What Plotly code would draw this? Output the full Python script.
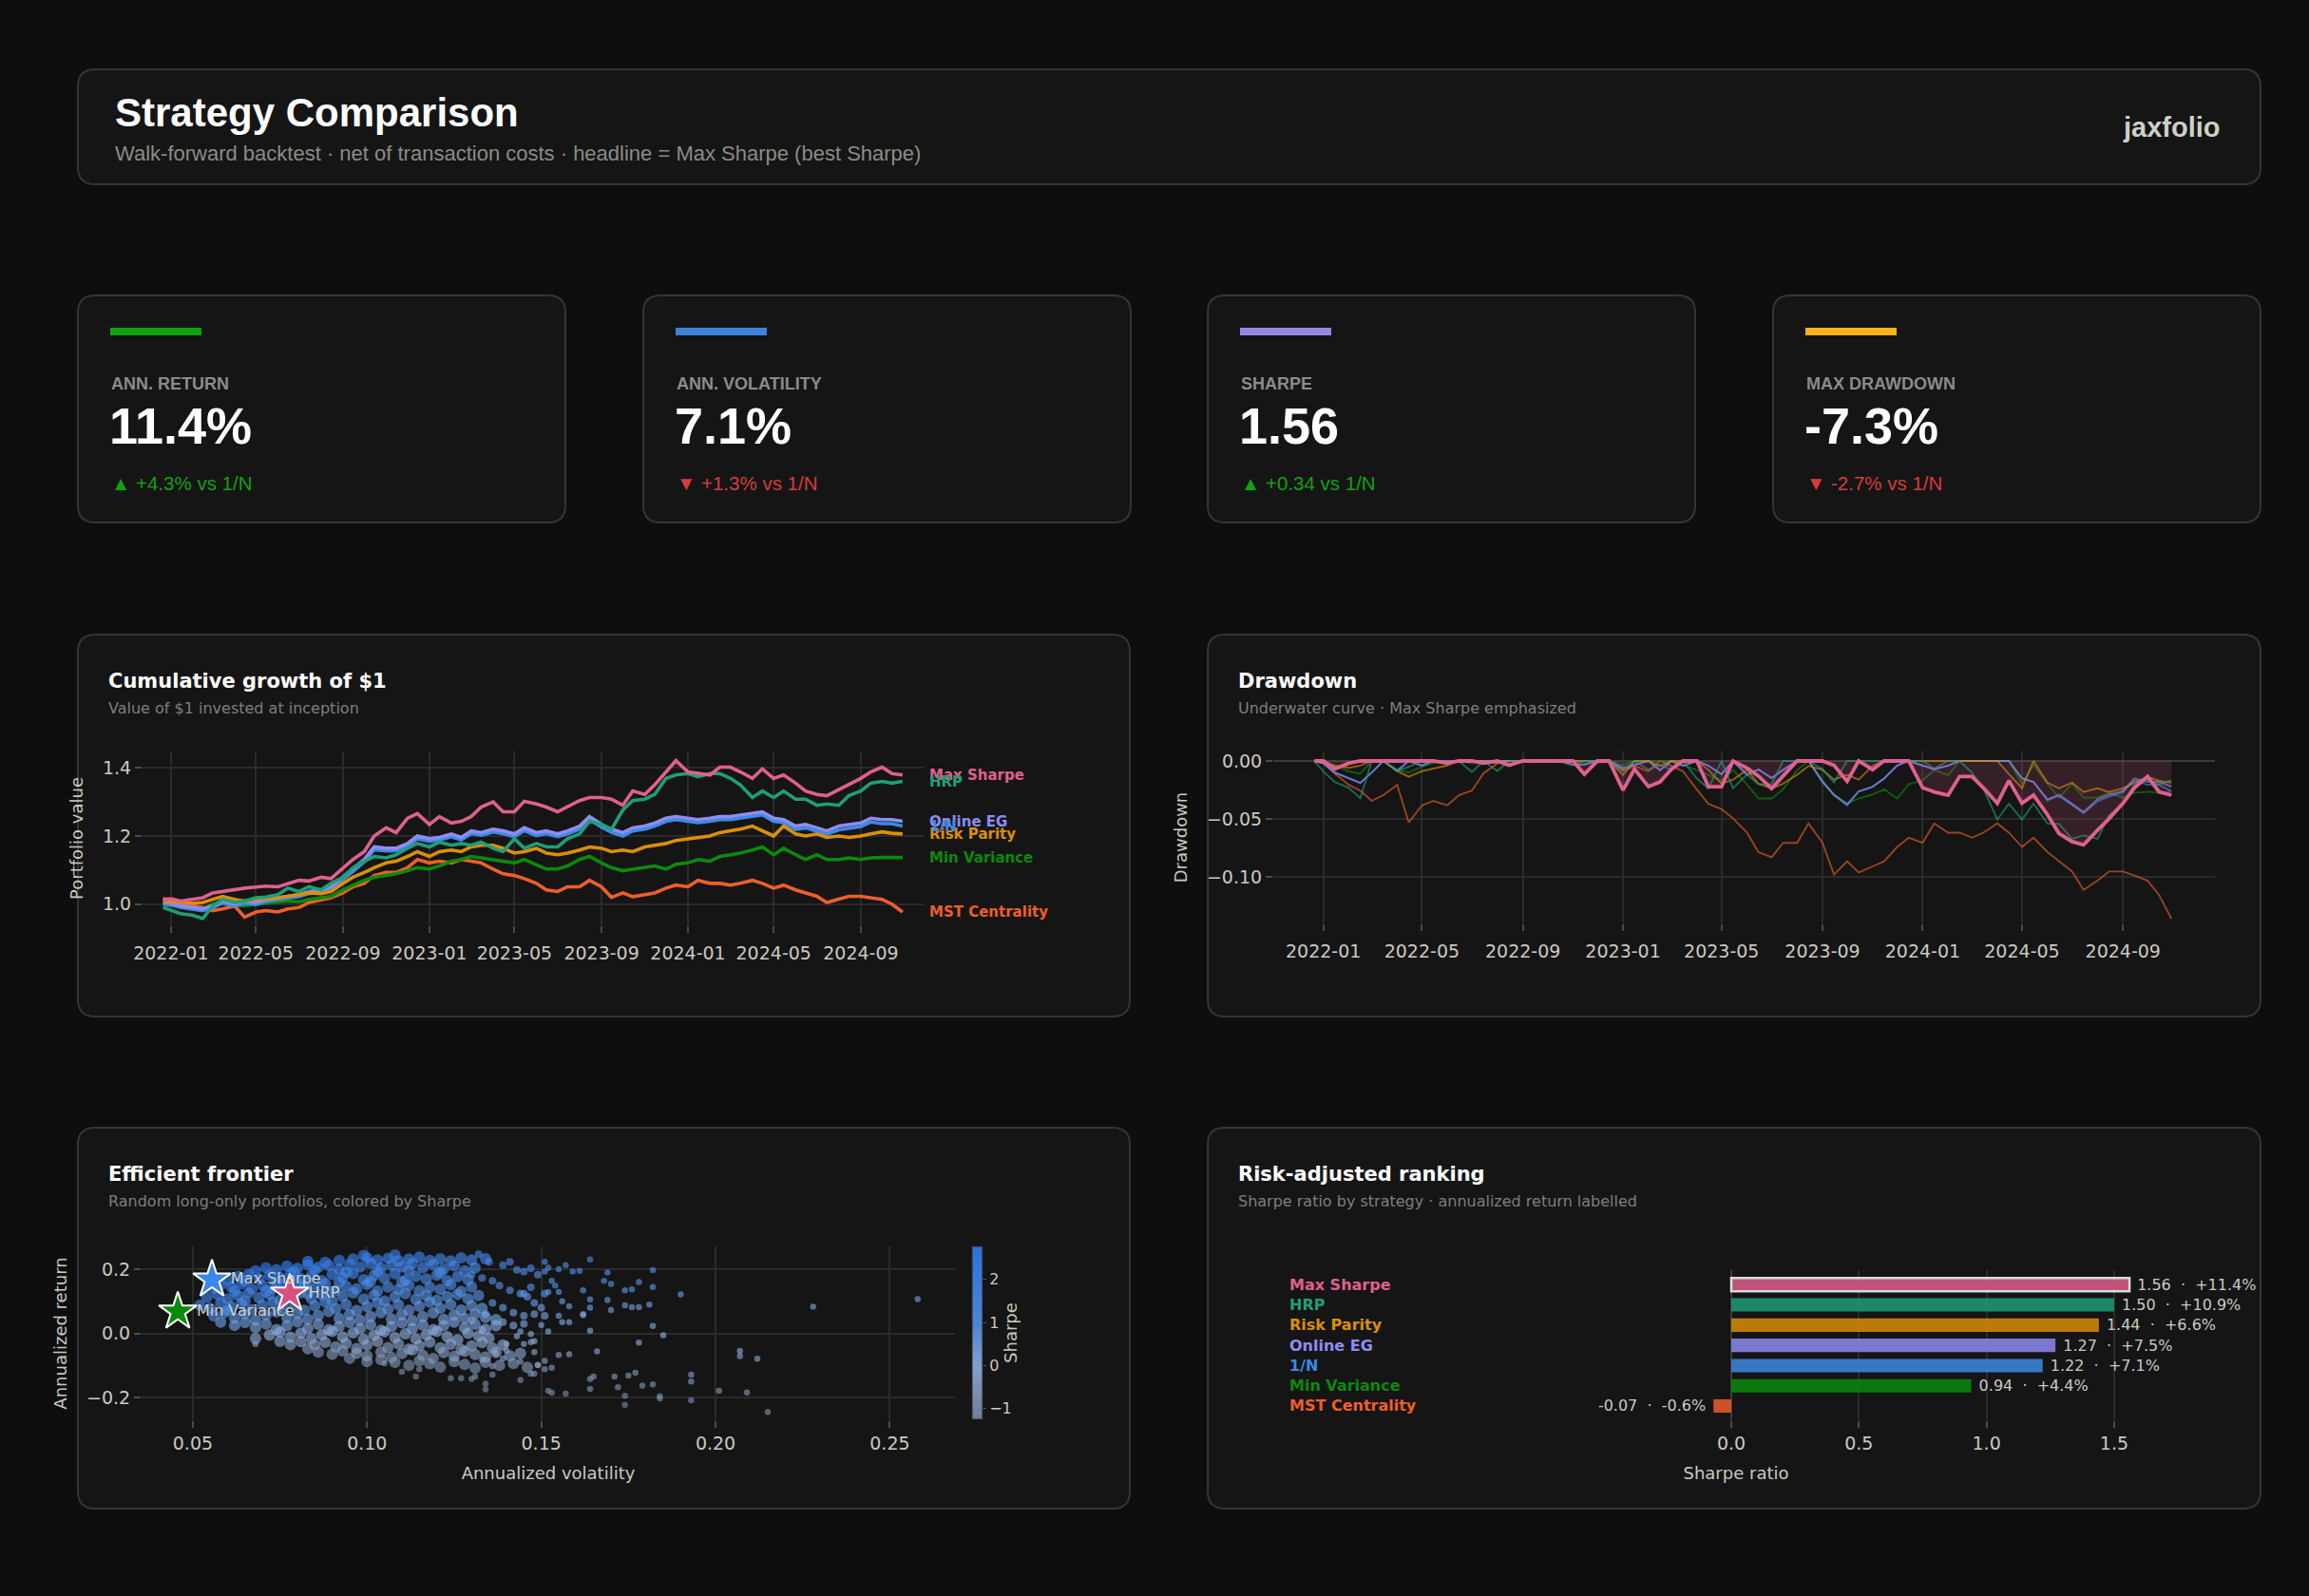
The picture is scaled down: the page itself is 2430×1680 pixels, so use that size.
import pandas as pd
import plotly.graph_objects as go

W, H = 2430, 1680
def fx(x): return x / W
def fy(y): return 1 - y / H

PAGE_BG = '#0e0e0e'
CARD_BG = '#151515'
CARD_LINE = '#353535'
TXT = '#cacac2'
GRID = '#2a2a2a'
TICKC = '#4a4a4a'
SANS = 'DejaVu Sans'
HEAD = 'Liberation Sans'

# ---------------- data ----------------
strategies = ['Max Sharpe', 'HRP', 'Risk Parity', 'Online EG', '1/N', 'Min Variance', 'MST Centrality']
line_colors = ['#e0608f', '#1f9e77', '#dc8f06', '#8f8cf2', '#3d8ae6', '#0b8a0b', '#ee5f2a']

months = pd.date_range('2022-01-01', '2024-10-01', freq='MS')
dates = ['2021-12-21'] + [d for m in months for d in (m.strftime('%Y-%m-01'), m.strftime('%Y-%m-15'))] + ['2024-10-30']

growth_max_sharpe = [1.012,
    1.016, 1.009, 1.014, 1.019, 1.033, 1.037, 1.044, 1.047, 1.050, 1.053, 1.051, 1.061,
    1.070, 1.068, 1.079, 1.075, 1.107, 1.131, 1.154, 1.200, 1.224, 1.210, 1.252, 1.266,
    1.234, 1.257, 1.238, 1.243, 1.257, 1.285, 1.300, 1.271, 1.271, 1.302, 1.294, 1.285,
    1.271, 1.285, 1.304, 1.313, 1.313, 1.308, 1.290, 1.332, 1.322, 1.350, 1.388, 1.421,
    1.388, 1.383, 1.379, 1.402, 1.402, 1.388, 1.369, 1.397, 1.369, 1.379, 1.355, 1.332,
    1.322, 1.318, 1.336, 1.350, 1.369, 1.388, 1.402, 1.383,
    1.379]
growth_hrp = [0.990,
    0.981, 0.972, 0.967, 0.958, 0.995, 1.014, 1.005, 1.009, 1.019, 1.021, 1.028, 1.047,
    1.037, 1.051, 1.042, 1.061, 1.079, 1.107, 1.126, 1.140, 1.136, 1.145, 1.164, 1.178,
    1.168, 1.182, 1.173, 1.178, 1.173, 1.182, 1.164, 1.154, 1.192, 1.164, 1.178, 1.168,
    1.168, 1.192, 1.206, 1.243, 1.234, 1.220, 1.276, 1.304, 1.308, 1.322, 1.369, 1.379,
    1.383, 1.374, 1.383, 1.383, 1.369, 1.350, 1.313, 1.332, 1.313, 1.332, 1.308, 1.308,
    1.290, 1.294, 1.290, 1.318, 1.332, 1.355, 1.360, 1.355,
    1.360]
growth_risk_parity = [1.009,
    1.007, 1.005, 1.003, 1.005, 1.014, 1.023, 1.014, 1.009, 1.014, 1.016, 1.019, 1.023,
    1.028, 1.033, 1.031, 1.037, 1.061, 1.079, 1.093, 1.107, 1.121, 1.126, 1.140, 1.154,
    1.140, 1.154, 1.159, 1.154, 1.168, 1.173, 1.173, 1.164, 1.150, 1.154, 1.164, 1.150,
    1.145, 1.150, 1.159, 1.168, 1.164, 1.154, 1.159, 1.154, 1.168, 1.173, 1.178, 1.187,
    1.192, 1.196, 1.200, 1.210, 1.215, 1.220, 1.229, 1.215, 1.200, 1.229, 1.206, 1.200,
    1.206, 1.196, 1.200, 1.196, 1.200, 1.206, 1.212, 1.208,
    1.206]
growth_online_eg = [1.005,
    1.003, 0.995, 0.990, 0.986, 0.995, 1.009, 1.000, 1.009, 1.005, 1.014, 1.019, 1.023,
    1.028, 1.037, 1.042, 1.051, 1.079, 1.103, 1.131, 1.168, 1.164, 1.164, 1.178, 1.200,
    1.192, 1.196, 1.206, 1.196, 1.215, 1.210, 1.220, 1.215, 1.206, 1.224, 1.210, 1.215,
    1.206, 1.215, 1.229, 1.257, 1.234, 1.220, 1.210, 1.224, 1.229, 1.238, 1.252, 1.257,
    1.252, 1.248, 1.252, 1.257, 1.257, 1.262, 1.266, 1.271, 1.252, 1.248, 1.229, 1.234,
    1.224, 1.215, 1.229, 1.234, 1.238, 1.252, 1.248, 1.248,
    1.243]
growth_equal_weight = [1.000,
    0.998, 0.990, 0.985, 0.981, 0.990, 1.003, 0.995, 1.003, 0.999, 1.008, 1.013, 1.017,
    1.022, 1.031, 1.036, 1.045, 1.072, 1.096, 1.124, 1.160, 1.156, 1.157, 1.170, 1.192,
    1.185, 1.188, 1.198, 1.189, 1.207, 1.202, 1.212, 1.207, 1.198, 1.216, 1.201, 1.207,
    1.198, 1.206, 1.220, 1.248, 1.226, 1.211, 1.200, 1.215, 1.220, 1.229, 1.243, 1.248,
    1.243, 1.239, 1.243, 1.248, 1.248, 1.252, 1.257, 1.262, 1.243, 1.239, 1.219, 1.224,
    1.214, 1.205, 1.218, 1.223, 1.228, 1.241, 1.236, 1.236,
    1.229]
growth_min_variance = [0.995,
    0.997, 0.993, 0.988, 0.986, 1.000, 1.005, 0.997, 0.995, 1.000, 1.003, 1.005, 1.009,
    1.007, 1.014, 1.019, 1.023, 1.042, 1.056, 1.070, 1.079, 1.084, 1.089, 1.098, 1.107,
    1.103, 1.112, 1.126, 1.131, 1.140, 1.136, 1.131, 1.126, 1.121, 1.131, 1.117, 1.103,
    1.103, 1.112, 1.131, 1.140, 1.121, 1.107, 1.098, 1.103, 1.107, 1.112, 1.103, 1.117,
    1.121, 1.131, 1.126, 1.140, 1.145, 1.150, 1.159, 1.168, 1.145, 1.164, 1.145, 1.131,
    1.145, 1.131, 1.131, 1.136, 1.131, 1.136, 1.137, 1.136,
    1.137]
growth_mst = [1.016,
    1.014, 1.005, 0.995, 0.990, 0.981, 0.986, 0.995, 0.962, 0.977, 0.981, 0.977, 0.986,
    0.990, 1.005, 1.014, 1.019, 1.033, 1.051, 1.061, 1.084, 1.093, 1.093, 1.107, 1.131,
    1.121, 1.126, 1.121, 1.131, 1.126, 1.121, 1.103, 1.089, 1.084, 1.075, 1.061, 1.042,
    1.037, 1.051, 1.051, 1.070, 1.051, 1.020, 1.033, 1.022, 1.028, 1.033, 1.047, 1.056,
    1.051, 1.070, 1.061, 1.061, 1.056, 1.061, 1.070, 1.061, 1.047, 1.056, 1.042, 1.033,
    1.023, 1.005, 1.014, 1.023, 1.023, 1.019, 1.014, 1.000,
    0.977]
growth = [growth_max_sharpe, growth_hrp, growth_risk_parity, growth_online_eg,
          growth_equal_weight, growth_min_variance, growth_mst]

# efficient frontier: (annualized volatility, annualized return)
frontier_core = [
    (0.083,0.225),(0.088,0.222),(0.092,0.228),(0.096,0.232),(0.100,0.236),(0.103,0.229),(0.106,0.234),(0.109,0.226),
    (0.112,0.232),(0.115,0.238),(0.118,0.228),(0.121,0.233),(0.124,0.226),(0.127,0.236),(0.130,0.229),(0.099,0.243),
    (0.108,0.245),(0.134,0.233),
    (0.068,0.195),(0.071,0.205),(0.074,0.199),(0.077,0.210),(0.080,0.203),(0.083,0.214),(0.086,0.206),(0.089,0.212),
    (0.092,0.200),(0.095,0.216),(0.098,0.207),(0.101,0.219),(0.104,0.203),(0.107,0.213),(0.110,0.208),(0.113,0.218),
    (0.116,0.205),(0.119,0.214),(0.122,0.200),(0.125,0.211),(0.128,0.195),(0.131,0.205),(0.079,0.192),(0.085,0.197),
    (0.094,0.191),(0.103,0.194),(0.112,0.196),(0.121,0.190),
    (0.060,0.168),(0.063,0.178),(0.066,0.184),(0.069,0.170),(0.072,0.181),(0.075,0.175),(0.078,0.186),(0.081,0.171),
    (0.084,0.180),(0.087,0.165),(0.090,0.184),(0.093,0.174),(0.096,0.187),(0.099,0.168),(0.102,0.180),(0.105,0.172),
    (0.108,0.186),(0.111,0.166),(0.114,0.178),(0.117,0.170),(0.120,0.182),(0.123,0.165),(0.126,0.177),(0.129,0.168),
    (0.065,0.163),(0.074,0.162),(0.083,0.161),(0.092,0.160),(0.101,0.162),(0.110,0.161),
    (0.056,0.140),(0.058,0.152),(0.061,0.145),(0.064,0.155),(0.067,0.138),(0.070,0.150),(0.073,0.142),(0.076,0.157),
    (0.079,0.136),(0.082,0.148),(0.085,0.140),(0.088,0.155),(0.091,0.134),(0.094,0.147),(0.097,0.139),(0.100,0.153),
    (0.103,0.132),(0.106,0.145),(0.109,0.137),(0.112,0.150),(0.115,0.133),(0.118,0.144),(0.121,0.137),(0.124,0.152),
    (0.127,0.131),(0.130,0.145),(0.062,0.132),(0.071,0.131),(0.080,0.158),(0.089,0.131),
    (0.054,0.112),(0.057,0.122),(0.060,0.108),(0.063,0.118),(0.066,0.126),(0.069,0.111),(0.072,0.121),(0.075,0.104),
    (0.078,0.117),(0.081,0.127),(0.084,0.109),(0.087,0.120),(0.090,0.102),(0.093,0.116),(0.096,0.126),(0.099,0.107),
    (0.102,0.119),(0.105,0.101),(0.108,0.114),(0.111,0.124),(0.114,0.106),(0.117,0.118),(0.120,0.103),(0.123,0.115),
    (0.126,0.122),(0.129,0.108),(0.132,0.118),(0.065,0.101),(0.083,0.124),
    (0.052,0.088),(0.055,0.078),(0.058,0.095),(0.061,0.083),(0.064,0.092),(0.067,0.074),(0.070,0.088),(0.073,0.097),
    (0.076,0.079),(0.079,0.091),(0.082,0.072),(0.085,0.086),(0.088,0.098),(0.091,0.077),(0.094,0.090),(0.097,0.071),
    (0.100,0.084),(0.103,0.095),(0.106,0.076),(0.109,0.089),(0.112,0.072),(0.115,0.085),(0.118,0.097),(0.121,0.078),
    (0.124,0.090),(0.127,0.073),(0.130,0.086),(0.133,0.078),(0.060,0.071),
    (0.056,0.055),(0.059,0.065),(0.062,0.048),(0.065,0.060),(0.068,0.042),(0.071,0.057),(0.074,0.067),(0.077,0.050),
    (0.080,0.062),(0.083,0.044),(0.086,0.056),(0.089,0.068),(0.092,0.047),(0.095,0.059),(0.098,0.041),(0.101,0.053),
    (0.104,0.065),(0.107,0.045),(0.110,0.058),(0.113,0.040),(0.116,0.052),(0.119,0.064),(0.122,0.044),(0.125,0.057),
    (0.128,0.047),(0.131,0.061),(0.134,0.050),(0.137,0.043),
    (0.062,0.025),(0.065,0.034),(0.068,0.018),(0.071,0.029),(0.074,0.012),(0.077,0.024),(0.080,0.036),(0.083,0.016),
    (0.086,0.028),(0.089,0.011),(0.092,0.022),(0.095,0.034),(0.098,0.014),(0.101,0.027),(0.104,0.010),(0.107,0.021),
    (0.110,0.033),(0.113,0.015),(0.116,0.026),(0.119,0.012),(0.122,0.024),(0.125,0.035),(0.128,0.017),(0.131,0.028),
    (0.134,0.013),(0.137,0.024),(0.058,0.035),
    (0.072,-0.005),(0.075,0.004),(0.078,-0.012),(0.081,0.001),(0.084,-0.016),(0.087,-0.004),(0.090,0.006),(0.093,-0.011),
    (0.096,0.002),(0.099,-0.018),(0.102,-0.006),(0.105,0.005),(0.108,-0.013),(0.111,-0.001),(0.114,-0.017),(0.117,-0.004),
    (0.120,0.006),(0.123,-0.010),(0.126,-0.020),(0.129,0.000),(0.132,-0.008),(0.068,-0.016),(0.135,-0.015),
    (0.081,-0.026),(0.085,-0.035),(0.088,-0.028),(0.091,-0.042),(0.094,-0.031),(0.097,-0.047),(0.100,-0.036),(0.103,-0.025),
    (0.106,-0.044),(0.109,-0.033),(0.112,-0.049),(0.115,-0.038),(0.118,-0.027),(0.121,-0.045),(0.124,-0.034),(0.127,-0.050),
    (0.130,-0.039),(0.133,-0.029),(0.136,-0.046),(0.139,-0.036),
    (0.075,-0.025),(0.078,-0.035),(0.083,-0.048),(0.086,-0.058),(0.090,-0.065),(0.095,-0.078),(0.100,-0.088),
    (0.093,-0.055),(0.097,-0.062),(0.100,-0.070),(0.104,-0.058),(0.107,-0.075),(0.110,-0.063),(0.113,-0.052),(0.116,-0.069),
    (0.119,-0.078),(0.122,-0.060),(0.125,-0.072),(0.128,-0.056),(0.131,-0.066),(0.134,-0.074),(0.137,-0.060),(0.141,-0.070),
    (0.144,-0.062),
    (0.104,-0.082),(0.108,-0.090),(0.112,-0.100),(0.115,-0.086),(0.118,-0.095),(0.121,-0.105),(0.125,-0.088),(0.128,-0.097),
    (0.131,-0.108),(0.134,-0.090),(0.138,-0.100),(0.142,-0.094),(0.146,-0.106),
]
frontier_mid = [
    (0.132,0.247),(0.135,0.223),(0.139,0.213),(0.141,0.223),(0.143,0.198),(0.145,0.193),(0.147,0.203),(0.149,0.183),
    (0.130,0.183),(0.133,0.173),(0.136,0.164),(0.138,0.149),(0.141,0.134),(0.144,0.124),(0.146,0.114),(0.148,0.095),
    (0.136,0.095),(0.139,0.080),(0.142,0.065),(0.145,0.055),(0.134,0.060),(0.139,0.035),(0.142,0.025),(0.130,0.040),
    (0.133,0.011),(0.145,0.030),(0.147,0.144),(0.145,0.124),(0.151,0.124),(0.150,0.080),(0.148,0.060),(0.151,0.055),
]
frontier_sparse = [
    (0.258,0.107),(0.228,0.083),(0.212,-0.079),(0.207,-0.055),(0.207,-0.071),(0.215,-0.245),(0.209,-0.184),(0.201,-0.179),
    (0.193,-0.129),(0.193,-0.150),(0.193,-0.209),(0.190,0.122),(0.184,-0.196),(0.184,-0.203),(0.182,0.197),(0.182,0.145),
    (0.181,0.090),(0.182,0.023),(0.185,-0.006),(0.178,-0.029),(0.166,-0.056),(0.178,0.160),(0.174,0.088),(0.176,0.082),
    (0.178,0.082),(0.169,0.190),(0.164,0.231),(0.169,0.104),(0.170,0.073),(0.164,0.080),(0.162,0.057),(0.164,0.008),
    (0.176,0.137),(0.174,0.134),(0.158,-0.065),(0.155,-0.067),(0.171,-0.135),(0.175,-0.132),(0.177,-0.123),(0.164,-0.142),
    (0.165,-0.135),(0.172,-0.168),(0.174,-0.195),(0.174,-0.223),(0.179,-0.163),(0.182,-0.159),(0.164,-0.173),(0.152,-0.179),
    (0.153,-0.185),(0.157,-0.188),(0.144,-0.146),(0.147,-0.126),(0.148,-0.126),(0.151,-0.086),(0.153,-0.107),(0.149,-0.099),
    (0.151,-0.112),(0.134,-0.157),(0.134,-0.175),(0.136,-0.129),(0.131,-0.135),(0.130,-0.142),(0.127,-0.140),(0.124,-0.140),
    (0.114,-0.135),(0.115,-0.112),(0.110,-0.120),(0.105,-0.093),(0.152,0.006),(0.150,0.026),(0.147,-0.002),(0.148,-0.024),
    (0.147,-0.027),(0.156,0.035),(0.155,0.055),(0.158,0.035),(0.159,0.193),(0.161,0.195),(0.157,0.213),(0.155,0.200),
    (0.151,0.223),(0.152,0.205),(0.151,0.193),(0.153,0.164),(0.154,0.149),(0.155,0.129),(0.152,0.129),(0.162,0.134),
    (0.164,0.106),(0.168,0.164),(0.170,0.154),(0.156,0.100),(0.158,0.085),(0.162,0.060),(0.144,0.006),(0.143,-0.009),
    (0.145,-0.033),(0.140,-0.053),(0.140,-0.033),(0.148,-0.058),(0.149,-0.098),(0.144,-0.088),(0.136,-0.102),(0.133,-0.083),
    (0.137,-0.063),(0.139,-0.078),(0.068,-0.033),
]
star_names = ['Max Sharpe', 'HRP', 'Min Variance']
star_vol = [0.0555, 0.0778, 0.0457]
star_ret = [0.168, 0.124, 0.068]
star_colors = ['#3b86e8', '#d6527f', '#0b8a0b']

rank_names = ['Max Sharpe', 'HRP', 'Risk Parity', 'Online EG', '1/N', 'Min Variance', 'MST Centrality']
rank_sharpe = [1.56, 1.50, 1.44, 1.27, 1.22, 0.94, -0.07]
rank_return = [11.4, 10.9, 6.6, 7.5, 7.1, 4.4, -0.6]

kpi_labels = ['ANN. RETURN', 'ANN. VOLATILITY', 'SHARPE', 'MAX DRAWDOWN']
kpi_values = ['11.4%', '7.1%', '1.56', '-7.3%']
kpi_deltas = ['▲ +4.3% vs 1/N', '▼ +1.3% vs 1/N', '▲ +0.34 vs 1/N', '▼ -2.7% vs 1/N']
kpi_delta_colors = ['#13a013', '#d63c3c', '#13a013', '#d63c3c']
kpi_accents = ['#10a010', '#3c82d8', '#9288e4', '#f7b21c']

color_of = dict(zip(strategies, line_colors))

# ---------------- figure ----------------
fig = go.Figure()

# cumulative growth (drawn bottom -> top)
for name, vals in reversed(list(zip(strategies, growth))):
    fig.add_trace(go.Scatter(x=dates, y=vals, mode='lines', xaxis='x', yaxis='y',
                             line=dict(color=color_of[name], width=3.6), showlegend=False, hoverinfo='skip'))

# drawdown
for name, vals in reversed(list(zip(strategies, growth))):
    if name == 'Max Sharpe':
        continue
    s = pd.Series(vals)
    dd = (s / s.cummax() - 1).tolist()
    fig.add_trace(go.Scatter(x=dates, y=dd, mode='lines', xaxis='x2', yaxis='y2', opacity=0.62,
                             line=dict(color=color_of[name], width=1.9), showlegend=False, hoverinfo='skip'))
s = pd.Series(growth_max_sharpe)
dd_ms = (s / s.cummax() - 1).tolist()
fig.add_trace(go.Scatter(x=dates, y=dd_ms, mode='lines', xaxis='x2', yaxis='y2', fill='tozeroy',
                         fillcolor='rgba(224,96,143,0.16)', line=dict(color='#e0608f', width=3.8),
                         showlegend=False, hoverinfo='skip'))

# efficient frontier
pts = frontier_core + frontier_mid + frontier_sparse
f_vol = [p[0] for p in pts]
f_ret = [p[1] for p in pts]
f_sharpe = [r / v for v, r in zip(f_vol, f_ret)]
f_size = [12] * len(frontier_core) + [8] * len(frontier_mid) + [6.5] * len(frontier_sparse)
fig.add_trace(go.Scatter(
    x=f_vol, y=f_ret, mode='markers', xaxis='x3', yaxis='y3', showlegend=False, hoverinfo='skip',
    marker=dict(size=f_size, color=f_sharpe, cmin=-1.25, cmax=2.77,
                colorscale=[[0, 'rgba(122,140,168,0.88)'], [0.3, 'rgba(145,175,222,0.9)'],
                            [0.55, 'rgba(84,146,232,0.9)'], [1, 'rgba(50,122,236,0.92)']],
                line=dict(width=0),
                colorbar=dict(x=fx(1022.6), xanchor='left', y=fy(1403), yanchor='middle',
                              len=182, lenmode='pixels', thickness=11, xpad=0, ypad=0,
                              outlinewidth=1, outlinecolor='#2a2a2a',
                              tickvals=[-1, 0, 1, 2], ticks='outside', ticklen=4, tickcolor='#555555',
                              tickfont=dict(size=16, color=TXT, family=SANS),
                              title=dict(text='Sharpe', side='right', font=dict(size=18, color=TXT, family=SANS))))))
fig.add_trace(go.Scatter(
    x=star_vol, y=star_ret, mode='markers+text', xaxis='x3', yaxis='y3', showlegend=False, hoverinfo='skip',
    text=star_names, textposition='middle right', textfont=dict(size=16, color='#d2d2ca', family=SANS),
    marker=dict(symbol='star', size=30, color=star_colors, line=dict(color='white', width=2))))

# ranking
bar_text = []
for s_, r_ in zip(rank_sharpe, rank_return):
    t = f"{s_:.2f}\u00a0\u00a0·\u00a0\u00a0{r_:+.1f}%"
    bar_text.append('\u00a0' + t if s_ >= 0 else t + '\u00a0')
fig.add_trace(go.Bar(
    x=rank_sharpe, y=rank_names, orientation='h', xaxis='x4', yaxis='y4', width=0.66,
    marker=dict(color=[color_of[n] for n in rank_names], opacity=0.84,
                line=dict(color=['white'] + ['rgba(0,0,0,0)'] * 6, width=[2.5] + [0] * 6)),
    text=bar_text, textposition='outside', cliponaxis=False, constraintext='none',
    textfont=dict(size=16, color=TXT, family=SANS), showlegend=False, hoverinfo='skip'))

# ---------------- axes ----------------
def ax(**kw):
    base = dict(showgrid=True, gridcolor=GRID, gridwidth=1.5, zeroline=False, showline=False,
                automargin=False,
                ticks='outside', ticklen=7, tickwidth=1.5, tickcolor=TICKC,
                tickfont=dict(size=19, color=TXT, family=SANS),
                title_font=dict(size=18, color=TXT, family=SANS))
    base.update(kw)
    return base

fig.update_layout(
    xaxis=ax(domain=[fx(150), fx(973)], anchor='y', type='date', range=['2021-11-22', '2024-11-30'],
             tickformat='%Y-%m', dtick='M4', tick0='2022-01-01', ticklabelstandoff=5),
    yaxis=ax(domain=[fy(974), fy(791)], anchor='x', range=[0.938, 1.448], tick0=1.0, dtick=0.2,
             tickformat='.1f', title=dict(text='Portfolio value')),
    xaxis2=ax(domain=[fx(1340), fx(2331)], anchor='y2', type='date', range=['2021-11-01', '2024-12-22'],
              tickformat='%Y-%m', dtick='M4', tick0='2022-01-01', ticklabelstandoff=5),
    yaxis2=ax(domain=[fy(972), fy(791)], anchor='x2', range=[-0.1403, 0.0082], tickvals=[0, -0.05, -0.10],
              tickformat='.2f', zeroline=True, zerolinecolor='#3c3c3c', zerolinewidth=2,
              title=dict(text='Drawdown')),
    xaxis3=ax(domain=[fx(149), fx(1005)], anchor='y3', range=[0.0353, 0.2687],
              tickvals=[0.05, 0.10, 0.15, 0.20, 0.25], tickformat='.2f',
              title=dict(text='Annualized volatility')),
    yaxis3=ax(domain=[fy(1495), fy(1312)], anchor='x3', range=[-0.271, 0.2714], tickvals=[-0.2, 0, 0.2],
              tickformat='.1f', title=dict(text='Annualized return')),
    xaxis4=ax(domain=[fx(1356), fx(2298)], anchor='y4', range=[-1.735, 1.772],
              tickvals=[0, 0.5, 1.0, 1.5], tickformat='.1f', zeroline=True, zerolinecolor='#3a3a3a',
              zerolinewidth=2, title=dict(text='Sharpe ratio')),
    yaxis4=dict(domain=[fy(1495), fy(1337)], anchor='x4', type='category', categoryorder='array',
                categoryarray=rank_names, range=[6.706, -0.719], showticklabels=False, showgrid=False,
                zeroline=False, showline=False, ticks='', automargin=False),
)

# ---------------- cards ----------------
def rrect(x0, y0, x1, y1, r):
    X = lambda x: f"{fx(x):.6f}"
    Y = lambda y: f"{fy(y):.6f}"
    return (f"M {X(x0 + r)},{Y(y0)} L {X(x1 - r)},{Y(y0)} Q {X(x1)},{Y(y0)} {X(x1)},{Y(y0 + r)} "
            f"L {X(x1)},{Y(y1 - r)} Q {X(x1)},{Y(y1)} {X(x1 - r)},{Y(y1)} L {X(x0 + r)},{Y(y1)} "
            f"Q {X(x0)},{Y(y1)} {X(x0)},{Y(y1 - r)} L {X(x0)},{Y(y0 + r)} Q {X(x0)},{Y(y0)} {X(x0 + r)},{Y(y0)} Z")

shapes = []
def card(x0, y0, x1, y1, r=18):
    shapes.append(dict(type='path', xref='paper', yref='paper', path=rrect(x0, y0, x1, y1, r),
                       fillcolor=CARD_BG, line=dict(color=CARD_LINE, width=2), layer='below'))

card(82, 73, 2379, 194)
kpi_x = [82, 677, 1271, 1866]
for i, L in enumerate(kpi_x):
    card(L, 311, L + 513, 550)
    shapes.append(dict(type='rect', xref='paper', yref='paper', x0=fx(L + 34), x1=fx(L + 130),
                       y0=fy(353), y1=fy(345), fillcolor=kpi_accents[i], line=dict(width=0), layer='below'))
chart_cards = [(82, 668, 1189, 1070), (1271, 668, 2379, 1070), (82, 1187, 1189, 1588), (1271, 1187, 2379, 1588)]
for c in chart_cards:
    card(*c)

annotations = []
def txt(x, y, text, size, color, family, xanchor='left', **kw):
    d = dict(xref='paper', yref='paper', x=fx(x), y=fy(y), text=text, showarrow=False,
             xanchor=xanchor, yanchor='middle', font=dict(size=size, color=color, family=family))
    d.update(kw)
    annotations.append(d)

# header
txt(119, 118.5, '<b>Strategy Comparison</b>', 42, '#ffffff', HEAD)
txt(119, 162, 'Walk-forward backtest · net of transaction costs · headline = Max Sharpe (best Sharpe)', 22, '#8c8c86', HEAD)
txt(2339, 134, '<b>jaxfolio</b>', 29, '#cfcfc7', HEAD, xanchor='right')

# KPI cards
for i, L in enumerate(kpi_x):
    txt(L + 33, 403.5, f'<b>{kpi_labels[i]}</b>', 18, '#8c8c86', HEAD)
    txt(L + 31, 447.5, f'<b>{kpi_values[i]}</b>', 54, '#ffffff', HEAD)
    txt(L + 33, 508, kpi_deltas[i], 20.5, kpi_delta_colors[i], HEAD)

# chart card titles
card_titles = ['Cumulative growth of $1', 'Drawdown', 'Efficient frontier', 'Risk-adjusted ranking']
card_subs = ['Value of $1 invested at inception', 'Underwater curve · Max Sharpe emphasized',
             'Random long-only portfolios, colored by Sharpe', 'Sharpe ratio by strategy · annualized return labelled']
for (x0, y0, x1, y1), t, s in zip(chart_cards, card_titles, card_subs):
    txt(x0 + 30, y0 + 49, f'<b>{t}</b>', 21, '#ffffff', SANS)
    txt(x0 + 30, y0 + 77.5, s, 16, '#7f7f7a', SANS)

# end-of-line labels for cumulative growth
for name, vals in zip(strategies, growth):
    annotations.append(dict(xref='paper', yref='y', x=fx(976), y=vals[-1], text=f'<b>{name}</b>',
                            showarrow=False, xanchor='left', yanchor='middle',
                            font=dict(size=15, color=color_of[name], family=SANS)))

# ranking category labels
for name in rank_names:
    annotations.append(dict(xref='paper', yref='y4', x=fx(1355), y=name, text=f'<b>{name}</b>',
                            showarrow=False, xanchor='left', yanchor='middle',
                            font=dict(size=16, color=color_of[name], family=SANS)))

fig.update_layout(
    width=W, height=H, margin=dict(l=0, r=0, t=0, b=0, pad=0),
    paper_bgcolor=PAGE_BG, plot_bgcolor='rgba(0,0,0,0)',
    font=dict(family=SANS, color=TXT, size=18),
    shapes=shapes, annotations=annotations, hovermode=False, showlegend=False,
)

fig.write_html('out.html', config={'displayModeBar': False})
